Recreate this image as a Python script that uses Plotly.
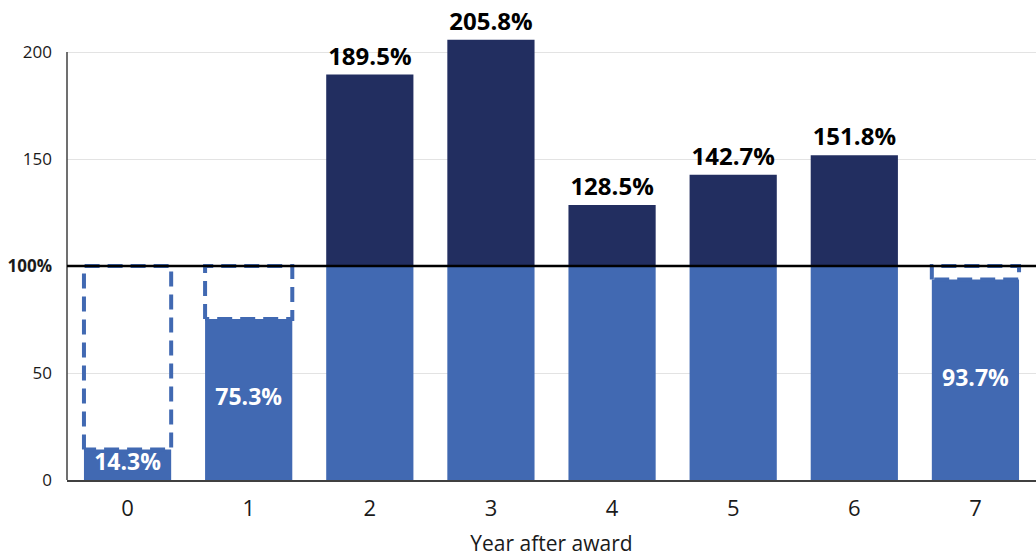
import plotly.graph_objects as go

years = [0, 1, 2, 3, 4, 5, 6, 7]
values = [14.3, 75.3, 189.5, 205.8, 128.5, 142.7, 151.8, 93.7]
tick_vals = [0, 50, 100, 150, 200]
tick_text = ["0", "50", "<b>100%</b>", "150", "200"]

BLUE = "#4169B2"
NAVY = "#222E60"
W = 0.72
FONT = "Open Sans"

base_part = [min(v, 100) for v in values]
over_part = [max(v - 100, 0) for v in values]
navy_text = [f"{v:.1f}%" if v >= 100 else "" for v in values]
low_x = [x for x, v in zip(years, values) if v < 100]
low_y = [v / 2 for v in values if v < 100]
low_text = [f"{v:.1f}%" for v in values if v < 100]

fig = go.Figure()
fig.add_bar(x=years, y=base_part, base=0, width=W, marker_color=BLUE,
            marker_line_width=0, hoverinfo="skip")
fig.add_bar(x=years, y=over_part, base=100, width=W, marker_color=NAVY,
            marker_line_width=0, text=navy_text, textposition="outside",
            cliponaxis=False,
            textfont=dict(family=FONT, size=24, color="black", weight="bold"),
            hoverinfo="skip")

# dashed outlines up to 100% for bars below target
for x, v in zip(years, values):
    if v < 100:
        fig.add_scatter(x=[x - W / 2, x - W / 2, x + W / 2, x + W / 2, x - W / 2],
                        y=[v, 100, 100, v, v], mode="lines",
                        line=dict(color=BLUE, width=4, dash="15px,8px"),
                        hoverinfo="skip", showlegend=False)

# labels inside the short bars
fig.add_scatter(x=low_x, y=low_y, text=low_text, mode="text",
                textposition="middle center", cliponaxis=False,
                textfont=dict(family=FONT, size=23, color="white", weight="bold"),
                hoverinfo="skip", showlegend=False)

# y axis line up to 200
fig.add_shape(type="line", xref="paper", x0=0, x1=0, yref="y", y0=0, y1=200,
              line=dict(color="#404040", width=1.5))
# 100% reference line
fig.add_shape(type="line", xref="paper", x0=0, x1=1, yref="y", y0=100, y1=100,
              line=dict(color="black", width=2.5))

fig.update_layout(
    width=1036, height=560, barmode="overlay", showlegend=False,
    margin=dict(l=67, r=0, t=11, b=80),
    plot_bgcolor="white", paper_bgcolor="white",
    font=dict(family=FONT, size=16, color="#1a1a1a"),
)
fig.update_xaxes(range=[-0.5, 7.5], tickvals=years, ticktext=[str(y) for y in years],
                 showline=True, linecolor="#404040", linewidth=1.5,
                 showgrid=False, zeroline=False, ticks="", ticklabelstandoff=8,
                 tickfont=dict(size=22),
                 title=dict(text="Year after award", font=dict(size=21), standoff=15))
fig.update_yaxes(range=[0, 219.2], tickvals=tick_vals, ticktext=tick_text,
                 showline=False, showgrid=True, gridcolor="#E3E3E3", gridwidth=1,
                 zeroline=False, ticks="", ticklabelstandoff=14,
                 tickfont=dict(size=17))

fig.write_html("out.html")
